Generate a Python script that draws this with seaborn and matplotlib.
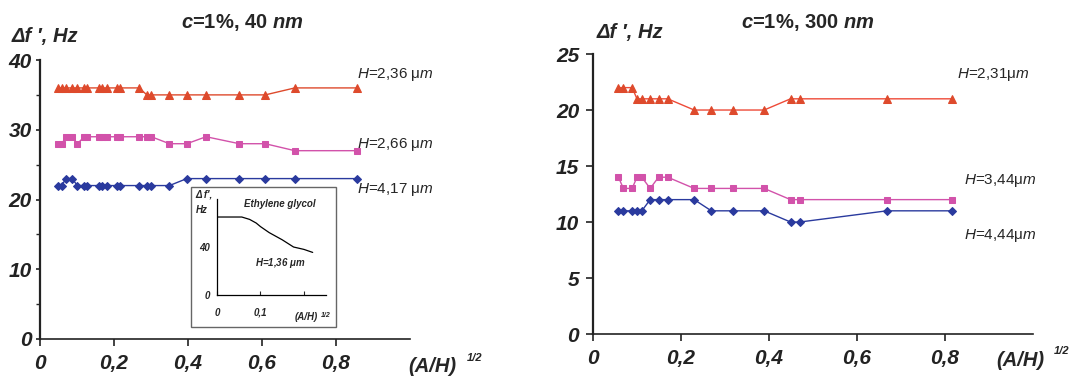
import numpy as np
import matplotlib
matplotlib.use("Agg")
import matplotlib.pyplot as plt
import seaborn as sns
from matplotlib.patches import Rectangle

# ---- left panel: c=1%, 40 nm ----
x40 = [0.049, 0.060, 0.069, 0.087, 0.101, 0.120, 0.128, 0.159, 0.168, 0.180,
       0.208, 0.217, 0.268, 0.289, 0.301, 0.350, 0.397, 0.449, 0.539, 0.609,
       0.689, 0.858]
h236 = [36, 36, 36, 36, 36, 36, 36, 36, 36, 36, 36, 36, 36, 35, 35, 35, 35, 35, 35, 35, 36, 36]
h266 = [28, 28, 29, 29, 28, 29, 29, 29, 29, 29, 29, 29, 29, 29, 29, 28, 28, 29, 28, 28, 27, 27]
h417 = [22, 22, 23, 23, 22, 22, 22, 22, 22, 22, 22, 22, 22, 22, 22, 22, 23, 23, 23, 23, 23, 23]

# inset: ethylene glycol
x_eg = [0.0, 0.03, 0.057, 0.075, 0.09, 0.10, 0.12, 0.15, 0.176, 0.20, 0.22]
y_eg = [65, 65, 65, 63, 60, 57, 52, 46, 40, 38, 35.5]

# ---- right panel: c=1%, 300 nm ----
x300 = [0.058, 0.069, 0.089, 0.100, 0.111, 0.130, 0.149, 0.170, 0.230, 0.269,
        0.319, 0.389, 0.449, 0.470, 0.668, 0.816]
h231 = [22, 22, 22, 21, 21, 21, 21, 21, 20, 20, 20, 20, 21, 21, 21, 21]
h344 = [14, 13, 13, 14, 14, 13, 14, 14, 13, 13, 13, 13, 12, 12, 12, 12]
h444 = [11, 11, 11, 11, 11, 12, 12, 12, 12, 11, 11, 11, 10, 10, 11, 11]

xticks = [0, 0.2, 0.4, 0.6, 0.8]
xticklabels = ["0", "0,2", "0,4", "0,6", "0,8"]

RED = "#DE4A2C"
RED2 = "#EE4A38"
PINK = "#D252AA"
BLUE = "#2A3A9E"

sns.set_style("ticks")
plt.rcParams["font.family"] = ["Liberation Sans", "DejaVu Sans"]
plt.rcParams["mathtext.fontset"] = "custom"
plt.rcParams["mathtext.rm"] = "Liberation Sans"
plt.rcParams["mathtext.it"] = "Liberation Sans:italic"
plt.rcParams["mathtext.bf"] = "Liberation Sans:bold"
plt.rcParams["mathtext.bfit"] = "Liberation Sans:bold:italic"

fig = plt.figure(figsize=(10.69, 3.77), dpi=100)
axL = fig.add_axes([0.0374, 0.1008, 0.346, 0.740])
axR = fig.add_axes([0.5547, 0.114, 0.4116, 0.7427])

tickfont = dict(fontsize=15, fontweight="bold", fontstyle="italic")


def series(ax, x, y, marker, color, ms, lc=None):
    sns.lineplot(x=x, y=y, ax=ax, marker=marker, color=lc or color, markersize=ms,
                 markerfacecolor=color, markeredgecolor=color, linewidth=1,
                 estimator=None, sort=False)


def style_axes(ax, ymax, ystep):
    ax.set_xlim(0, 1.0)
    ax.set_ylim(0, ymax)
    for s in ["top", "right"]:
        ax.spines[s].set_visible(False)
    ax.spines["left"].set_linewidth(1.6)
    ax.spines["bottom"].set_linewidth(1.2)
    ax.spines["left"].set_color("#222222")
    ax.spines["bottom"].set_color("#222222")
    ax.set_xticks(xticks)
    ax.set_xticklabels(xticklabels, **tickfont)
    yt = np.arange(0, ymax + 0.1, ystep)
    ax.set_yticks(yt)
    ax.set_yticklabels([f"{int(v)}" for v in yt], **tickfont)
    ax.tick_params(axis="both", direction="out", length=5, width=1.2, pad=6, colors="#222222")
    ax.set_xlabel("")
    ax.set_ylabel("")


series(axL, x40, h236, "^", RED, 5.5)
series(axL, x40, h266, "s", PINK, 5)
series(axL, x40, h417, "D", BLUE, 4)
style_axes(axL, 40, 10)
axL.tick_params(axis="y", length=3, pad=3)
axL.set_yticks(np.arange(5, 40, 10), minor=True)
axL.tick_params(axis="y", which="minor", length=3, width=1.0)

series(axR, x300, h231, "^", RED, 5.5, RED2)
series(axR, x300, h344, "s", PINK, 5)
series(axR, x300, h444, "D", BLUE, 4)
style_axes(axR, 25, 5)
axR.tick_params(axis="y", pad=5)

# inset
box = Rectangle((0.1784, 0.1326), 0.136, 0.372, transform=fig.transFigure,
                facecolor="white", edgecolor="#666666", linewidth=1.0, zorder=1)
fig.patches.append(box)
axI = fig.add_axes([0.203, 0.2175, 0.1017, 0.2546])
axI.set_zorder(5)
axI.patch.set_alpha(0)
sns.lineplot(x=x_eg, y=y_eg, ax=axI, color="black", linewidth=0.9, estimator=None, sort=False)
axI.set_xlim(0, 0.25)
axI.set_ylim(0, 80)
for s in ["top", "right"]:
    axI.spines[s].set_visible(False)
axI.spines["left"].set_linewidth(0.9)
axI.spines["bottom"].set_linewidth(0.9)
axI.spines["left"].set_color("black")
axI.spines["bottom"].set_color("black")
axI.set_xticks([0, 0.1, 0.2])
axI.set_xticklabels(["0", "0,1", ""], fontsize=7, fontweight="bold", fontstyle="italic")
axI.set_yticks([0, 40])
axI.set_yticklabels(["0", "40"], fontsize=7, fontweight="bold", fontstyle="italic")
axI.tick_params(axis="x", direction="in", length=3, width=0.8, pad=9)
axI.tick_params(axis="y", direction="in", length=0, pad=5)
axI.set_xlabel("")
axI.set_ylabel("")
axI.text(0.25, 0.92, "Ethylene glycol", transform=axI.transAxes, fontsize=7,
         fontweight="bold", fontstyle="italic")
axI.text(0.35, 0.30, r"H=1,36 $\mathbfit{\mu m}$", transform=axI.transAxes, fontsize=7,
         fontweight="bold", fontstyle="italic")
fig.text(0.183, 0.475, "Δ f′,", fontsize=7, fontweight="bold", fontstyle="italic", zorder=6)
fig.text(0.183, 0.435, "Hz", fontsize=7, fontweight="bold", fontstyle="italic", zorder=6)
fig.text(0.276, 0.150, "(A/H)", fontsize=7, fontweight="bold", fontstyle="italic", zorder=6)
fig.text(0.300, 0.160, "1/2", fontsize=5, fontweight="bold", fontstyle="italic", zorder=6)

# titles and axis labels
lab = dict(fontsize=14.5, fontweight="bold", fontstyle="italic")
fig.text(0.011, 0.888, "Δf ′, Hz", **lab)
fig.text(0.558, 0.900, "Δf ′, Hz", **lab)
fig.text(0.227, 0.925, r"$\mathbfit{c}$=1%, 40 $\mathbfit{nm}$", fontsize=14.5,
         fontweight="bold", ha="center")
fig.text(0.756, 0.925, r"$\mathbfit{c}$=1%, 300 $\mathbfit{nm}$", fontsize=14.5,
         fontweight="bold", ha="center")
fig.text(0.382, 0.014, "(A/H)", **lab)
fig.text(0.437, 0.042, "1/2", fontsize=8, fontweight="bold", fontstyle="italic")
fig.text(0.932, 0.028, "(A/H)", **lab)
fig.text(0.986, 0.060, "1/2", fontsize=8, fontweight="bold", fontstyle="italic")

# curve labels
ann = dict(fontsize=11)
fig.text(0.334, 0.793, r"$H$=2,36 μ$m$", **ann)
fig.text(0.334, 0.607, r"$H$=2,66 μ$m$", **ann)
fig.text(0.334, 0.488, r"$H$=4,17 μ$m$", **ann)
fig.text(0.895, 0.793, r"$H$=2,31μ$m$", **ann)
fig.text(0.902, 0.512, r"$H$=3,44μ$m$", **ann)
fig.text(0.902, 0.366, r"$H$=4,44μ$m$", **ann)

fig.savefig("out.png", dpi=100)
